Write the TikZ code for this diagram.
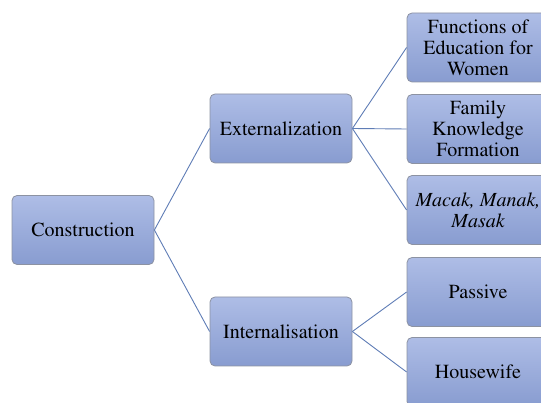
\documentclass[tikz,border=0pt]{standalone}
\usepackage[T1]{fontenc}
\usepackage{times}
\usetikzlibrary{positioning}
\definecolor{boxtop}{RGB}{174,189,230}
\definecolor{boxbot}{RGB}{136,156,208}
\definecolor{boxline}{RGB}{140,146,162}
\definecolor{linkblue}{RGB}{95,125,182}
\tikzset{
  box/.style={draw=boxline, line width=0.8pt, rounded corners=5pt,
    top color=boxtop, bottom color=boxbot,
    minimum width=142pt, minimum height=69pt, inner sep=0pt,
    align=center, font=\fontsize{20}{21}\selectfont},
  link/.style={draw=linkblue, line width=0.9pt}
}

\begin{document}
\begin{tikzpicture}[x=1pt,y=1pt]
  \useasboundingbox (0,0) rectangle (541,-403);

  % Raiz
  \node[box] (constr) at (83,-230) {Construction};

  % Segundo nivel
  \node[box] (ext) at (281,-128.5) {Externalization};
  \node[box] (int) at (281,-331.5) {Internalisation};

  % Folhas
  \node[box] (func) at (478,-47.5) {Functions of\\Education for\\Women};
  \node[box] (fam) at (478,-129) {Family\\Knowledge\\Formation};
  \node[box] (macak) at (478,-210) {\itshape Macak, Manak,\\\itshape Masak};
  \node[box] (passive) at (478,-292) {Passive};
  \node[box] (wife) at (478,-372) {Housewife};

  % Ligacoes
  \draw[link] (constr.east) -- (ext.west);
  \draw[link] (constr.east) -- (int.west);
  \foreach \leaf in {func, fam, macak} {
    \draw[link] (ext.east) -- (\leaf.west);
  }
  \foreach \leaf in {passive, wife} {
    \draw[link] (int.east) -- (\leaf.west);
  }

\end{tikzpicture}
\end{document}
